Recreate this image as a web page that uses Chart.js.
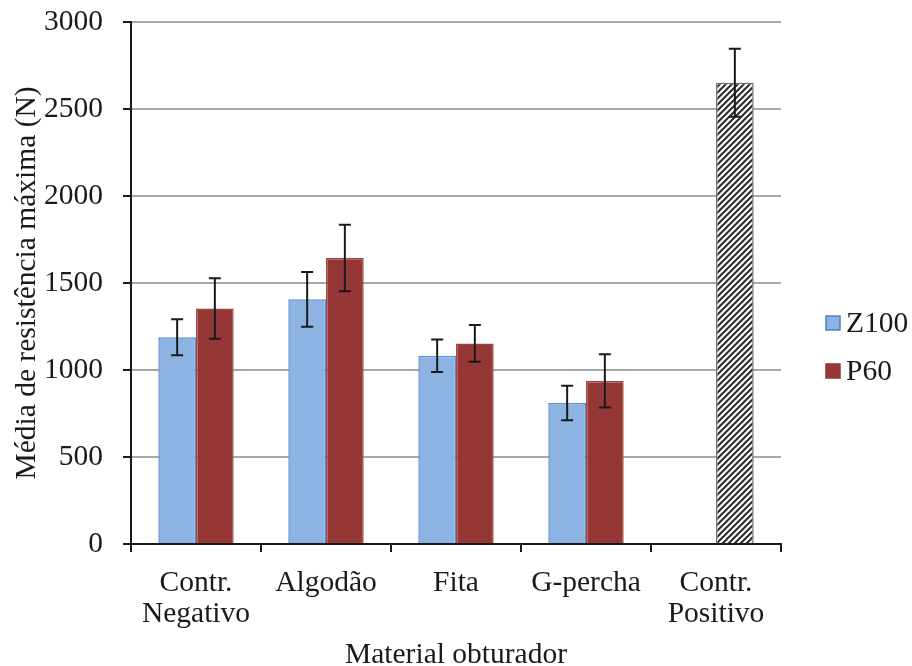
<!DOCTYPE html>
<html>
<head>
<meta charset="utf-8">
<script src="https://cdn.jsdelivr.net/npm/chart.js@4.4.1/dist/chart.umd.min.js"></script>
<style>
  html, body { margin: 0; padding: 0; background: #fff; }
  #wrap { width: 912px; height: 666px; }
</style>
</head>
<body>
<div id="wrap"><canvas id="chart" width="912" height="666"></canvas></div>
<script>
const categories = [['Contr.', 'Negativo'], 'Algodão', 'Fita', 'G-percha', ['Contr.', 'Positivo']];
const z100 = [1188, 1406, 1082, 810, null];
const z100Err = [103, 157, 94, 99, null];
const p60 = [1354, 1644, 1153, 937, 2651];
const p60Err = [174, 191, 106, 153, 195];
const yMax = 3000;
const yStep = 500;

const FONT = "'Liberation Serif', 'Times New Roman', serif";
const FS = 29.5;

// hatch pattern for the positive control bar
function makeHatch() {
    const c = document.createElement('canvas');
    c.width = 6; c.height = 6;
    const g = c.getContext('2d');
    g.fillStyle = '#fff';
    g.fillRect(0, 0, 6, 6);
    g.strokeStyle = '#2a2a2a';
    g.lineWidth = 2;
    g.beginPath();
    g.moveTo(-1, 7); g.lineTo(7, -1);
    g.moveTo(-4, 4); g.lineTo(4, -4);
    g.moveTo(2, 10); g.lineTo(10, 2);
    g.stroke();
    return g.createPattern(c, 'repeat');
}
const hatch = makeHatch();

const errorBars = {
    id: 'errorBars',
    afterDatasetsDraw(chart) {
        const ctx = chart.ctx;
        const y = chart.scales.y;
        chart.data.datasets.forEach((ds, i) => {
            const meta = chart.getDatasetMeta(i);
            meta.data.forEach((bar, j) => {
                const v = ds.data[j];
                const e = ds.errors[j];
                if (v == null || e == null) return;
                const top = y.getPixelForValue(v + e);
                const bot = y.getPixelForValue(v - e);
                ctx.save();
                ctx.strokeStyle = '#1a1a1a';
                ctx.lineWidth = 2;
                ctx.beginPath();
                ctx.moveTo(bar.x, top); ctx.lineTo(bar.x, bot);
                ctx.moveTo(bar.x - 6, top); ctx.lineTo(bar.x + 6, top);
                ctx.moveTo(bar.x - 6, bot); ctx.lineTo(bar.x + 6, bot);
                ctx.stroke();
                ctx.restore();
            });
        });
    }
};

const sideLegend = {
    id: 'sideLegend',
    afterDraw(chart) {
        const ctx = chart.ctx;
        const items = [
            { text: chart.data.datasets[0].label, fill: '#8db3e2', stroke: '#4f81bd', y: 323 },
            { text: chart.data.datasets[1].label, fill: '#953735', stroke: '#953735', y: 371 }
        ];
        ctx.save();
        ctx.font = FS + 'px ' + FONT;
        ctx.textBaseline = 'middle';
        items.forEach(it => {
            ctx.fillStyle = it.fill;
            ctx.fillRect(826, it.y - 7, 14, 14);
            ctx.strokeStyle = it.stroke;
            ctx.lineWidth = 1.5;
            ctx.strokeRect(826, it.y - 7, 14, 14);
            ctx.fillStyle = '#1a1a1a';
            ctx.fillText(it.text, 846, it.y + 1);
        });
        ctx.restore();
    }
};

new Chart(document.getElementById('chart'), {
    type: 'bar',
    data: {
        labels: categories,
        datasets: [
            {
                label: 'Z100',
                data: z100,
                errors: z100Err,
                backgroundColor: '#8db3e2',
                borderColor: '#5b8fd0',
                borderWidth: 1.5
            },
            {
                label: 'P60',
                data: p60,
                errors: p60Err,
                backgroundColor: p60.map((v, i) => i === 4 ? hatch : '#953735'),
                borderColor: p60.map((v, i) => i === 4 ? '#707070' : '#a04544'),
                borderWidth: 1.5
            }
        ]
    },
    options: {
        responsive: false,
        animation: false,
        datasets: { bar: { categoryPercentage: 0.58, barPercentage: 1 } },
        layout: { padding: { left: 0, right: 131, top: 22, bottom: 0 } },
        plugins: { legend: { display: false }, tooltip: { enabled: false } },
        scales: {
            x: {
                grid: {
                    offset: true,
                    color: c => c.index === categories.length ? '#9a9a9a' : 'rgba(0,0,0,0)',
                    lineWidth: 2,
                    tickColor: '#1a1a1a',
                    tickLength: 8
                },
                border: { color: '#1a1a1a', width: 2 },
                ticks: {
                    color: '#1a1a1a',
                    font: { family: FONT, size: FS, lineHeight: 1.05 },
                    padding: 16,
                    maxRotation: 0,
                    autoSkip: false
                },
                title: {
                    display: true,
                    text: 'Material obturador',
                    color: '#1a1a1a',
                    font: { family: FONT, size: FS, lineHeight: 0.75 },
                    padding: { top: 0, bottom: 0 }
                },
                afterFit(s) { s.height = 122; s.paddingLeft = 0; s.paddingRight = 0; }
            },
            y: {
                min: 0,
                max: yMax,
                grid: {
                    color: '#a8a8a8',
                    lineWidth: 2,
                    tickColor: '#1a1a1a',
                    tickLength: 8
                },
                border: { color: '#1a1a1a', width: 2 },
                ticks: {
                    stepSize: yStep,
                    color: '#1a1a1a',
                    font: { family: FONT, size: FS },
                    padding: 20,
                    callback: v => String(v)
                },
                title: {
                    display: true,
                    text: 'Média de resistência máxima (N)',
                    color: '#1a1a1a',
                    font: { family: FONT, size: FS, lineHeight: 1.2 },
                    padding: { top: 10, bottom: 0 }
                },
                afterFit(s) { s.width = 131; s.paddingTop = 0; s.paddingBottom = 0; }
            }
        }
    },
    plugins: [errorBars, sideLegend]
});
</script>
</body>
</html>
